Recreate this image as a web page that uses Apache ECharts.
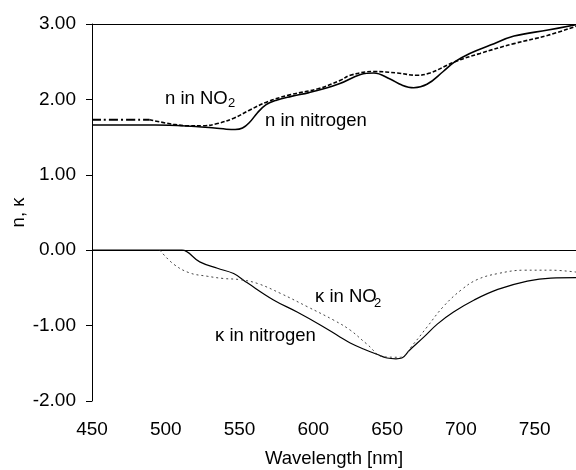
<!DOCTYPE html>
<html>
<head>
<meta charset="utf-8">
<script src="https://cdn.jsdelivr.net/npm/echarts@6/dist/echarts.min.js"></script>
<style>
  html, body { margin: 0; padding: 0; background: #fff; }
  #chart { width: 576px; height: 470px; }
</style>
</head>
<body>
<div id="chart"></div>
<script>
// n in nitrogen (solid)
const nN2Wl = [450, 493, 520, 533, 541, 547, 552, 557, 562, 568, 575, 585, 597, 607, 618, 632, 641, 652, 660, 668, 677, 688, 696, 706, 720, 736, 759, 778];
const nN2Val = [1.66, 1.66, 1.64, 1.62, 1.605, 1.60, 1.62, 1.70, 1.82, 1.93, 1.99, 2.04, 2.09, 2.14, 2.21, 2.33, 2.35, 2.27, 2.19, 2.155, 2.20, 2.37, 2.50, 2.61, 2.72, 2.84, 2.92, 2.99];

// n in NO2 (dashed, dash-dot at the start)
const nNo2Wl = [450, 489, 505, 516, 525, 535, 546, 557, 569, 584, 603, 618, 625, 641, 657, 670, 679, 696, 713, 736, 759, 778];
const nNo2Val = [1.73, 1.73, 1.67, 1.65, 1.65, 1.68, 1.75, 1.86, 1.97, 2.06, 2.14, 2.25, 2.32, 2.37, 2.35, 2.32, 2.35, 2.50, 2.61, 2.74, 2.85, 2.97];

// kappa in nitrogen (solid)
const kN2Wl = [450, 500, 506, 511, 523, 535, 546, 555, 573, 589, 605, 618, 625, 634, 643, 650, 656, 660, 665, 675, 684, 695, 709, 725, 745, 761, 778];
const kN2Val = [0, 0, 0, 0, -0.155, -0.24, -0.31, -0.43, -0.66, -0.82, -0.995, -1.15, -1.23, -1.31, -1.38, -1.43, -1.44, -1.43, -1.33, -1.15, -0.98, -0.82, -0.66, -0.52, -0.41, -0.37, -0.365];

// kappa in NO2 (dotted)
const kNo2Wl = [496, 505, 516, 528, 539, 550, 562, 578, 596, 614, 625, 636, 648, 659, 668, 677, 688, 700, 711, 725, 743, 761, 778];
const kNo2Val = [0, -0.18, -0.30, -0.345, -0.375, -0.39, -0.44, -0.575, -0.75, -0.93, -1.06, -1.24, -1.415, -1.42, -1.24, -1.02, -0.75, -0.53, -0.39, -0.31, -0.265, -0.265, -0.29];

const yTicks = [-2, -1, 0, 1, 2, 3];

const pairs = (xs, ys) => xs.map((x, i) => [x, ys[i]]);
const FONT = "'Liberation Sans', Arial, sans-serif";

const nNo2Pairs = pairs(nNo2Wl, nNo2Val);

let mychart = echarts.init(document.getElementById("chart"));

const lineSeries = (name, data, style) => ({
  name: name,
  type: "line",
  symbol: "none",
  smooth: 0.4,
  lineStyle: style,
  data: data,
});

mychart.setOption({
  animation: false,
  grid: { left: 92, right: 0, top: 24, bottom: 69, outerBoundsMode: "none", containLabel: false },
  xAxis: [
    {
      type: "value",
      min: 450,
      max: 778,
      interval: 50,
      name: "Wavelength [nm]",
      nameLocation: "middle",
      nameGap: 48,
      nameTextStyle: { fontFamily: FONT, fontSize: 18.5, color: "#000" },
      axisLine: { lineStyle: { color: "#000", width: 1 } },
      axisTick: { show: false },
      axisLabel: {
        fontFamily: FONT,
        fontSize: 19,
        color: "#000",
        margin: 19,
        showMaxLabel: false,
      },
      splitLine: { show: false },
    },
    {
      type: "value",
      position: "top",
      min: 450,
      max: 778,
      axisLine: { show: true, lineStyle: { color: "#000", width: 1 } },
      axisTick: { show: false },
      axisLabel: { show: false },
      splitLine: { show: false },
    },
  ],
  yAxis: {
    type: "value",
    min: yTicks[0],
    max: yTicks[yTicks.length - 1],
    interval: 1,
    name: "n, κ",
    nameLocation: "middle",
    nameRotate: 90,
    nameGap: 64,
    nameMoveOverlap: false,
    nameTextStyle: { fontFamily: FONT, fontSize: 18.5, color: "#000" },
    axisLine: { show: true, lineStyle: { color: "#000", width: 1 } },
    axisTick: { show: true, length: 6, lineStyle: { color: "#000" } },
    axisLabel: {
      fontFamily: FONT,
      fontSize: 19,
      color: "#000",
      margin: 16,
      formatter: (v) => v.toFixed(2),
    },
    splitLine: { show: false },
  },
  series: [
    lineSeries("n in nitrogen", pairs(nN2Wl, nN2Val), { color: "#000", width: 1.6 }),
    lineSeries("n in NO2 head", nNo2Pairs.slice(0, 2), { color: "#000", width: 2, type: [9, 3, 2, 3] }),
    lineSeries("n in NO2", nNo2Pairs.slice(1), { color: "#000", width: 1.6, type: [4, 2] }),
    lineSeries("κ in nitrogen", pairs(kN2Wl, kN2Val), { color: "#000", width: 1.2 }),
    lineSeries("κ in NO2", pairs(kNo2Wl, kNo2Val), { color: "#444", width: 1, type: [2, 3] }),
  ],
  graphic: [
    { type: "text", left: 165, top: 89, style: { text: "n in NO", font: "18.5px " + FONT, fill: "#000" } },
    { type: "text", left: 228, top: 97, style: { text: "2", font: "13px " + FONT, fill: "#000" } },
    { type: "text", left: 265, top: 111, style: { text: "n in nitrogen", font: "18.5px " + FONT, fill: "#000" } },
    { type: "text", left: 315, top: 287, style: { text: "κ in NO", font: "18.5px " + FONT, fill: "#000" } },
    { type: "text", left: 374, top: 297, style: { text: "2", font: "13px " + FONT, fill: "#000" } },
    { type: "text", left: 215, top: 326, style: { text: "κ in nitrogen", font: "18.5px " + FONT, fill: "#000" } },
  ],
});
</script>
</body>
</html>
